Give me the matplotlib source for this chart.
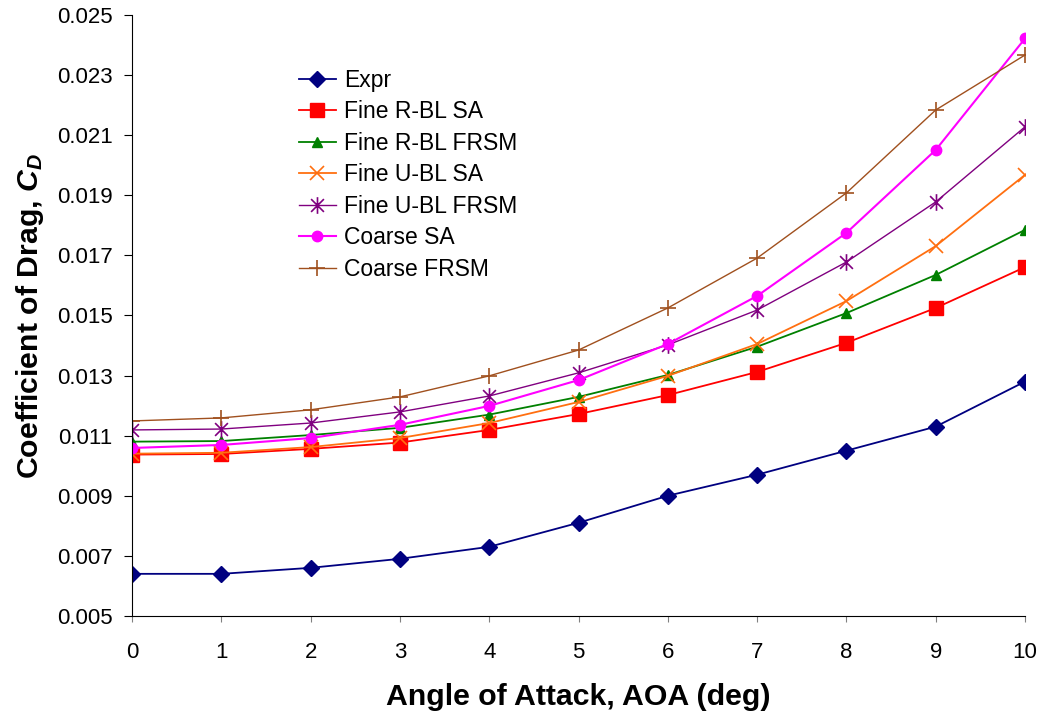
import numpy as np
import matplotlib
matplotlib.use("Agg")
import matplotlib.pyplot as plt
from matplotlib.path import Path

plt.rcParams['font.family'] = ['Liberation Sans', 'DejaVu Sans']
plt.rcParams['mathtext.fontset'] = 'custom'
plt.rcParams['mathtext.rm'] = 'Liberation Sans'
plt.rcParams['mathtext.it'] = 'Liberation Sans:italic'
plt.rcParams['mathtext.bf'] = 'Liberation Sans:bold'
plt.rcParams['mathtext.bfit'] = 'Liberation Sans:italic:bold'

# angle of attack (deg)
aoa = [0, 1, 2, 3, 4, 5, 6, 7, 8, 9, 10]

# drag coefficient per case
cd_expr        = [0.0064, 0.0064, 0.0066, 0.0069, 0.0073, 0.0081, 0.0090, 0.0097, 0.0105, 0.0113, 0.0128]
cd_fine_rbl_sa = [0.01037, 0.01039, 0.01056, 0.01077, 0.01119, 0.01172, 0.01235, 0.01312, 0.01409, 0.01525, 0.01661]
cd_fine_rbl_fr = [0.01080, 0.01082, 0.01102, 0.01126, 0.01170, 0.01229, 0.01302, 0.01396, 0.01508, 0.01635, 0.01785]
cd_fine_ubl_sa = [0.01040, 0.01043, 0.01062, 0.01092, 0.01142, 0.01212, 0.01299, 0.01405, 0.01548, 0.01731, 0.01968]
cd_fine_ubl_fr = [0.01119, 0.01122, 0.01142, 0.01179, 0.01232, 0.01309, 0.01402, 0.01518, 0.01678, 0.01878, 0.02128]
cd_coarse_sa   = [0.01059, 0.01069, 0.01092, 0.01136, 0.01199, 0.01285, 0.01405, 0.01565, 0.01775, 0.02051, 0.02422]
cd_coarse_fr   = [0.01149, 0.01159, 0.01186, 0.01229, 0.01299, 0.01385, 0.01525, 0.01691, 0.01908, 0.02184, 0.02367]

labels = ['Expr', 'Fine R-BL SA', 'Fine R-BL FRSM', 'Fine U-BL SA',
          'Fine U-BL FRSM', 'Coarse SA', 'Coarse FRSM']

# excel style star: x plus vertical bar
star = Path([(-1, -1), (1, 1), (-1, 1), (1, -1), (0, -1.3), (0, 1.3)],
            [Path.MOVETO, Path.LINETO, Path.MOVETO, Path.LINETO, Path.MOVETO, Path.LINETO])

fig = plt.figure(figsize=(10.42, 7.17), dpi=100)
ax = fig.add_axes([0.1267, 0.141, 0.857, 0.838])

ax.plot(aoa, cd_expr, color='#000080', lw=1.3, marker='D', ms=8, label=labels[0])
ax.plot(aoa, cd_fine_rbl_sa, color='#FF0000', lw=1.3, marker='s', ms=10, label=labels[1])
ax.plot(aoa, cd_fine_rbl_fr, color='#008000', lw=1.3, marker='^', ms=7, label=labels[2])
ax.plot(aoa, cd_fine_ubl_sa, color='#FF6F10', lw=1.3, marker='x', ms=10, mew=1.2, label=labels[3])
ax.plot(aoa, cd_fine_ubl_fr, color='#800080', lw=1.0, marker=star, ms=12, mew=1.2, label=labels[4])
ax.plot(aoa, cd_coarse_sa, color='#FF00FF', lw=1.5, marker='o', ms=7.5, label=labels[5])
ax.plot(aoa, cd_coarse_fr, color='#A0501E', lw=1.0, marker='+', ms=12, mew=1.2, label=labels[6])

ax.set_xlim(0, 10)
ax.set_ylim(0.005, 0.025)
ax.set_xticks(range(0, 11))
ax.set_yticks(np.arange(0.005, 0.0251, 0.002))
ax.set_yticklabels(['%.3f' % v for v in np.arange(0.005, 0.0251, 0.002)])
ax.spines['top'].set_visible(False)
ax.spines['right'].set_visible(False)
ax.tick_params(labelsize=16, direction='out')
ax.tick_params(axis='y', length=6, pad=8)
ax.tick_params(axis='x', color='#808080', length=4.5, pad=14)

ax.set_xlabel('Angle of Attack, AOA (deg)', fontsize=21.8, fontweight='bold', labelpad=15)
ax.set_ylabel(r'Coefficient of Drag, $\mathbfit{C}_{\mathbfit{D}}$', fontsize=21.8,
              fontweight='bold', labelpad=8)

ax.legend(loc='upper left', bbox_to_anchor=(0.164, 0.945), frameon=False, fontsize=16.5,
          handlelength=1.6, handletextpad=0.35, labelspacing=0.37)

fig.savefig('out.png', dpi=100)
